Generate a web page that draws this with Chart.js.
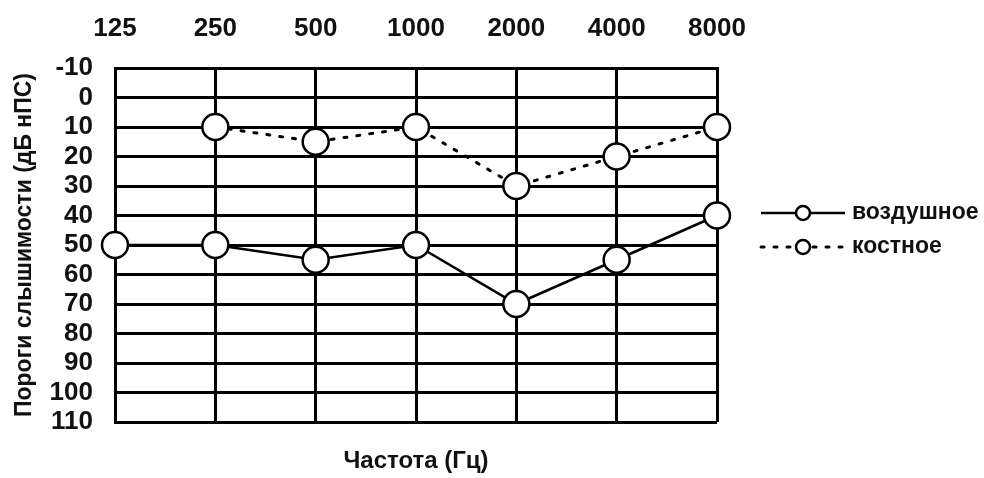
<!DOCTYPE html>
<html>
<head>
<meta charset="utf-8">
<script src="https://cdn.jsdelivr.net/npm/chart.js@4"></script>
<style>
html,body{margin:0;padding:0;background:#fff;}
#wrap{width:984px;height:478px;position:relative;}
</style>
</head>
<body>
<div id="wrap"><canvas id="c" width="984" height="478"></canvas></div>
<script>
const frequencies = ['125','250','500','1000','2000','4000','8000'];
const airThresholds = [50, 50, 55, 50, 70, 55, 40];
const boneThresholds = [null, 10, 15, 10, 30, 20, 10];
const seriesNames = ['воздушное', 'костное'];
const yTitle = 'Пороги слышимости (дБ нПС)';
const xTitle = 'Частота (Гц)';

const FONT = "'Liberation Sans', Arial, sans-serif";

const legendPlugin = {
  id: 'sideLegend',
  afterDraw(chart) {
    const ctx = chart.ctx;
    const r = chart.chartArea.right;
    const rows = [213, 247];
    chart.data.datasets.forEach((ds, i) => {
      const y = rows[i];
      ctx.save();
      ctx.strokeStyle = '#000';
      ctx.lineWidth = ds.borderWidth;
      ctx.setLineDash(ds.borderDash || []);
      ctx.lineCap = ds.borderCapStyle || 'butt';
      ctx.beginPath();
      ctx.moveTo(r + 44, y);
      ctx.lineTo(r + 128, y);
      ctx.stroke();
      ctx.setLineDash([]);
      ctx.beginPath();
      ctx.arc(r + 86, y, 7, 0, Math.PI * 2);
      ctx.fillStyle = '#fff';
      ctx.fill();
      ctx.lineWidth = 2.5;
      ctx.stroke();
      ctx.fillStyle = '#111';
      ctx.font = "bold 23px " + FONT;
      ctx.textBaseline = 'middle';
      ctx.textAlign = 'left';
      ctx.fillText(ds.label, r + 135, y);
      ctx.restore();
    });
  }
};

new Chart(document.getElementById('c'), {
  type: 'line',
  data: {
    labels: frequencies,
    datasets: [
      {
        label: seriesNames[0],
        data: airThresholds,
        xAxisID: 'x', yAxisID: 'y',
        borderColor: '#000', borderWidth: 2.5,
        pointRadius: 13, pointHoverRadius: 13,
        pointBackgroundColor: '#fff', pointBorderColor: '#000', pointBorderWidth: 2.5,
        tension: 0, clip: false, spanGaps: false
      },
      {
        label: seriesNames[1],
        data: boneThresholds,
        xAxisID: 'x', yAxisID: 'y',
        borderColor: '#000', borderWidth: 3, borderDash: [3, 10], borderCapStyle: 'round',
        pointRadius: 13, pointHoverRadius: 13,
        pointBackgroundColor: '#fff', pointBorderColor: '#000', pointBorderWidth: 2.5,
        tension: 0, clip: false, spanGaps: false
      }
    ]
  },
  options: {
    responsive: false,
    animation: false,
    layout: { padding: { left: 0, right: 267, top: 0, bottom: 0 } },
    plugins: { legend: { display: false }, tooltip: { enabled: false } },
    scales: {
      x: {
        type: 'category', position: 'top', offset: false,
        afterFit(s) { s.height = 68; },
        grid: { color: '#000', lineWidth: 3, drawTicks: false },
        border: { display: true, color: '#000', width: 3 },
        ticks: { color: '#111', padding: 24, maxRotation: 0, autoSkip: false,
                 font: { family: FONT, size: 26, weight: 'bold' } }
      },
      x2: {
        type: 'category', position: 'bottom', offset: false,
        afterFit(s) { s.height = 56; },
        grid: { display: false, drawTicks: false },
        border: { display: false },
        ticks: { display: false },
        title: { display: true, text: xTitle, color: '#111', padding: { top: 0, bottom: 2 },
                 font: { family: FONT, size: 24, weight: 'bold' } }
      },
      y: {
        type: 'linear', position: 'left', reverse: true, min: -10, max: 110,
        afterFit(s) { s.width = 115; },
        grid: { color: '#000', lineWidth: 3, drawTicks: false },
        border: { display: true, color: '#000', width: 3 },
        ticks: { stepSize: 10, autoSkip: false, maxTicksLimit: 20, padding: 22, color: '#111',
                 font: { family: FONT, size: 26, weight: 'bold', lineHeight: 1 } },
        title: { display: true, text: yTitle, color: '#111', padding: { top: 11, bottom: 0 },
                 font: { family: FONT, size: 23, weight: 'bold' } }
      }
    }
  },
  plugins: [legendPlugin]
});
</script>
</body>
</html>
